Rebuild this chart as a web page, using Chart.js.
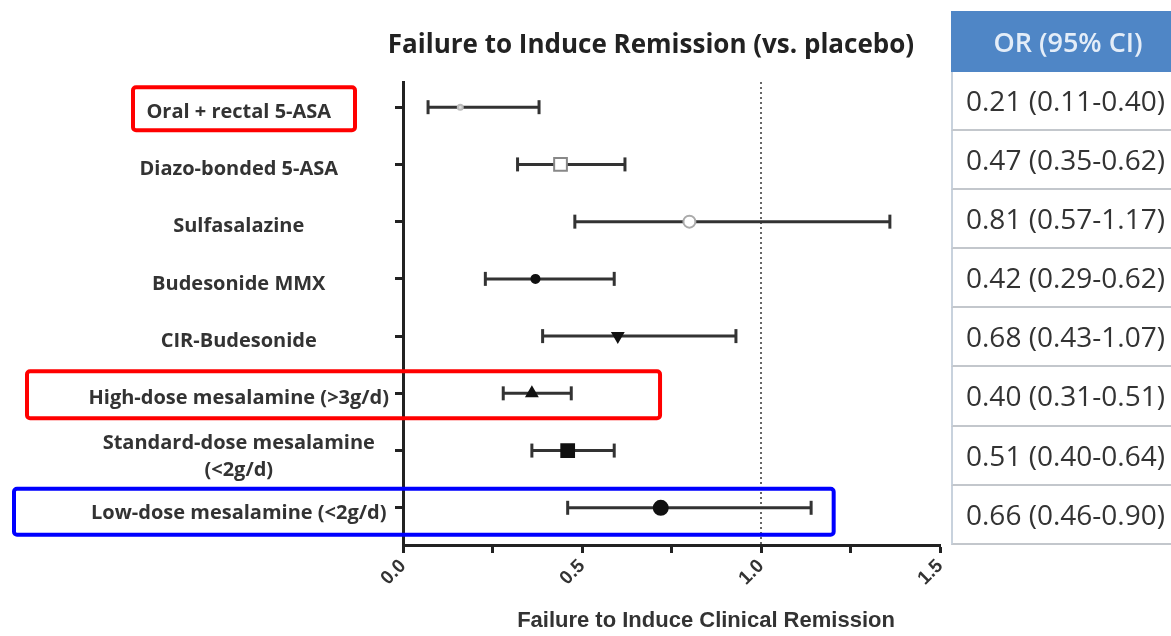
<!DOCTYPE html>
<html>
<head>
<meta charset="utf-8">
<script src="https://cdn.jsdelivr.net/npm/chart.js@4"></script>
<style>
  html, body { margin: 0; padding: 0; background: #fff; }
  #wrap { position: relative; width: 1171px; height: 636px; overflow: hidden; }
  #orTable { position: absolute; left: 951px; top: 11px; width: 234px; font-family: 'Open Sans', sans-serif; }
  #orTable .head { height: 61px; line-height: 61px; background: #4f86c6; color: #e4edf8; font-size: 27px; font-weight: 600; text-align: center; }
  #orTable .row { box-sizing: border-box; height: 59.1px; line-height: 57px; font-size: 28px; color: #333; padding-left: 13px;
    border-left: 2px solid #c8d2dd; border-bottom: 2px solid #c3c7cc; white-space: nowrap; }
</style>
</head>
<body>
<div id="wrap">
  <canvas id="forest" width="1171" height="636"></canvas>
  <div id="orTable"></div>
</div>
<script>
// rows, top to bottom
const categories = [
    'Oral + rectal 5-ASA',
    'Diazo-bonded 5-ASA',
    'Sulfasalazine',
    'Budesonide MMX',
    'CIR-Budesonide',
    'High-dose mesalamine (>3g/d)',
    ['Standard-dose mesalamine', '(<2g/d)'],
    'Low-dose mesalamine (<2g/d)',
];
// values
const estimates = [0.16, 0.44, 0.80, 0.37, 0.60, 0.36, 0.46, 0.72];
const lowerCI = [0.07, 0.32, 0.48, 0.23, 0.39, 0.28, 0.36, 0.46];
const upperCI = [0.38, 0.62, 1.36, 0.59, 0.93, 0.47, 0.59, 1.14];
// table text on the right
const orLabels = [
    '0.21 (0.11-0.40)', '0.47 (0.35-0.62)', '0.81 (0.57-1.17)', '0.42 (0.29-0.62)',
    '0.68 (0.43-1.07)', '0.40 (0.31-0.51)', '0.51 (0.40-0.64)', '0.66 (0.46-0.90)',
];
const xLabelTicks = [0, 0.5, 1.0, 1.5];
const nullLine = 1.0;

const chartTitle = 'Failure to Induce Remission (vs. placebo)';
const xTitle = 'Failure to Induce Clinical Remission';
const tableHead = 'OR (95% CI)';

// marker look per row
const markerStyle = ['circle', 'rect', 'circle', 'circle', 'triangle', 'triangle', 'rect', 'circle'];
const markerRadius = [2.5, 9, 6, 4, 6, 6, 9, 7];
const markerRotation = [0, 0, 0, 0, 180, 0, 0, 0];
const markerFill = ['#ddd', '#fff', '#fff', '#111', '#111', '#111', '#111', '#111'];
const markerEdge = ['#bbb', '#888', '#aaa', '#111', '#111', '#111', '#111', '#111'];

// highlight boxes drawn over the figure (row, left px, right edge)
const highlights = [
    { row: 0, left: 133, right: null, rightPx: 355, color: '#ff0000', up: 20, down: 23 },
    { row: 5, left: 27, right: 0.718, color: '#ff0000', up: 22, down: 25 },
    { row: 7, left: 14, right: 1.203, color: '#0000ff', up: 19, down: 27 },
];

// table
const tbl = document.getElementById('orTable');
tbl.innerHTML = '<div class="head">' + tableHead + '</div>' +
    orLabels.map((t) => '<div class="row">' + t + '</div>').join('');

const datasets = [];
datasets.push({
    label: 'estimate',
    data: estimates.map((v, i) => ({ x: v, y: i })),
    pointStyle: markerStyle,
    pointRadius: markerRadius,
    pointRotation: markerRotation,
    pointBackgroundColor: markerFill,
    pointBorderColor: markerEdge,
    pointBorderWidth: 2,
    showLine: false,
});
categories.forEach((c, i) => {
    datasets.push({
        label: 'ci' + i,
        data: [{ x: lowerCI[i], y: i }, { x: upperCI[i], y: i }],
        showLine: true,
        borderColor: '#333',
        borderWidth: 3,
        pointStyle: 'line',
        pointRotation: 90,
        pointRadius: 7,
        pointBorderWidth: 3,
        pointBorderColor: '#333',
    });
});
datasets.push({
    label: 'null',
    data: [{ x: nullLine, y: -0.44 }, { x: nullLine, y: 7.65 }],
    showLine: true,
    borderColor: '#666',
    borderWidth: 2,
    borderDash: [2, 3],
    pointRadius: 0,
});

const overlay = {
    id: 'overlay',
    afterDraw(chart) {
        const ctx = chart.ctx;
        const ys = chart.scales.y;
        const xs = chart.scales.x;
        ctx.save();
        ctx.textAlign = 'center';
        ctx.textBaseline = 'middle';
        // title
        ctx.fillStyle = '#222';
        ctx.font = 'bold 26px "Open Sans"';
        ctx.fillText(chartTitle, 651, 46);
        // x axis title
        ctx.font = 'bold 22px "Liberation Sans"';
        ctx.fillStyle = '#333';
        ctx.fillText(xTitle, 706, 621);
        // row labels, centred in the label column, a little under the tick
        ctx.font = 'bold 20px "Open Sans"';
        const lines = categories.flat();
        const widest = Math.max(...lines.map((t) => ctx.measureText(t).width));
        const cx = ys.right - 14 - widest / 2;
        categories.forEach((c, i) => {
            const y = ys.getPixelForValue(i) + 5;
            if (Array.isArray(c)) {
                ctx.fillText(c[0], cx, y - 12);
                ctx.fillText(c[1], cx, y + 15);
            } else {
                ctx.fillText(c, cx, y);
            }
        });
        // highlight boxes
        ctx.lineWidth = 4;
        highlights.forEach((h) => {
            const yc = ys.getPixelForValue(h.row);
            const r = h.right === null ? h.rightPx : xs.getPixelForValue(h.right);
            ctx.strokeStyle = h.color;
            ctx.beginPath();
            ctx.roundRect(h.left, yc - h.up, r - h.left, h.up + h.down, 3);
            ctx.stroke();
        });
        ctx.restore();
    },
};

new Chart(document.getElementById('forest'), {
    type: 'scatter',
    data: { datasets: datasets },
    options: {
        responsive: false,
        animation: false,
        layout: { padding: { top: 82, right: 231, left: 0, bottom: 0 } },
        plugins: { legend: { display: false }, tooltip: { enabled: false } },
        scales: {
            x: {
                type: 'linear',
                min: 0,
                max: 1.5,
                afterFit: (s) => { s.height = 91; },
                ticks: {
                    stepSize: 0.25,
                    minRotation: 45,
                    maxRotation: 45,
                    color: '#333',
                    padding: 2,
                    font: { family: 'Liberation Sans', size: 19, weight: 'bold' },
                    callback: (v) => (xLabelTicks.includes(v) ? v.toFixed(1) : ''),
                },
                grid: { drawOnChartArea: false, drawTicks: true, tickLength: 8, tickWidth: 3, color: '#222' },
                border: { display: true, width: 3, color: '#222' },
            },
            y: {
                type: 'linear',
                reverse: true,
                min: -0.44,
                max: 7.65,
                afterFit: (s) => { s.width = 403; },
                afterBuildTicks: (s) => { s.ticks = categories.map((c, i) => ({ value: i })); },
                ticks: { display: false },
                grid: { drawOnChartArea: false, drawTicks: true, tickLength: 8, tickWidth: 3, color: '#222' },
                border: { display: true, width: 3, color: '#222' },
            },
        },
    },
    plugins: [overlay],
});
</script>
</body>
</html>
